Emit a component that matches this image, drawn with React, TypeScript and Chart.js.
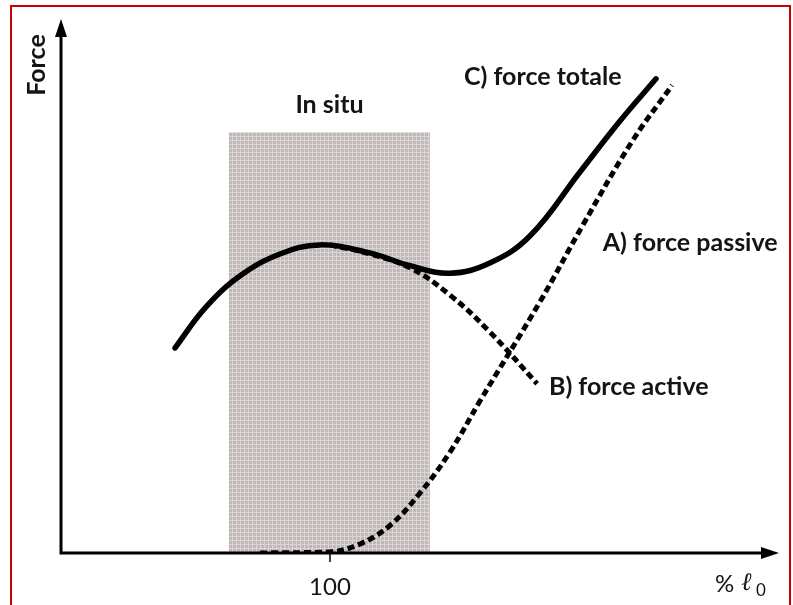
import React, { useEffect, useRef } from "react";
import { Chart, registerables } from "chart.js";

Chart.register(...registerables);

// ---- data (x: % of l0, y: force, arbitrary units) ----
const totalX = [71.2, 76.8, 83.3, 90.7, 98.1, 107.4, 114.9, 122.3, 129.7, 137.2, 146.5, 153.9, 160.6];
const totalY = [38.4, 45.9, 51.9, 56.0, 57.7, 56.2, 53.8, 52.4, 54.3, 59.4, 71.4, 80.9, 88.8];

const activeX = [100.0, 107.4, 114.9, 122.3, 129.7, 138.5];
const activeY = [57.7, 56.0, 53.4, 48.3, 41.4, 31.7];

const passiveX = [87.0, 100.0, 105.6, 111.2, 116.7, 122.3, 127.9, 139.0, 147.0, 156.3, 163.6];
const passiveY = [0, 0.2, 1.7, 5.2, 11.2, 18.9, 28.5, 47.0, 61.4, 77.3, 87.6];

const inSituRange = [81.2, 118.6];
const inSituTop = 78.8;

const xTickValues = [100];
const xTickLabels = ["100"];

const seriesLabels = ["C) force totale", "B) force active", "A) force passive"];
const regionLabel = "In situ";
const yAxisTitle = "Force";

const X_MIN = 50;
const X_MAX = 183.46;
const Y_MIN = 0;
const Y_MAX = 100;

// label anchor positions in data coordinates (layout only)
const labelAnchors = [
  { x: 124.9, y: 89.1 }, // C
  { x: 140.7, y: 31.1 }, // B
  { x: 150.7, y: 58.1 }, // A
];

const toPts = (xs: number[], ys: number[]) => xs.map((x, i) => ({ x, y: ys[i] }));

function makePattern(ctx: CanvasRenderingContext2D) {
  const c = document.createElement("canvas");
  c.width = 4;
  c.height = 4;
  const g = c.getContext("2d")!;
  g.fillStyle = "#c0b7b7";
  g.fillRect(0, 0, 4, 4);
  g.fillStyle = "#dcd5d5";
  g.fillRect(0, 0, 4, 1);
  g.fillRect(0, 0, 1, 4);
  return ctx.createPattern(c, "repeat");
}

const LABEL_FONT = "bold 25px Lato, 'Liberation Sans', sans-serif";

const decorPlugin = {
  id: "decor",
  beforeDatasetsDraw(chart: any) {
    const { ctx, scales } = chart;
    const xs = scales.x;
    const ys = scales.y;
    const x0 = xs.getPixelForValue(inSituRange[0]);
    const x1 = xs.getPixelForValue(inSituRange[1]);
    const yTop = ys.getPixelForValue(inSituTop);
    const yBot = ys.getPixelForValue(0);
    ctx.save();
    ctx.fillStyle = makePattern(ctx) || "#ccc5c5";
    ctx.fillRect(x0, yTop, x1 - x0, yBot - yTop);
    ctx.restore();

    const ox = xs.getPixelForValue(X_MIN);
    const oy = ys.getPixelForValue(0);
    const tipX = xs.getPixelForValue(X_MAX);
    const tipY = ys.getPixelForValue(Y_MAX);
    ctx.save();
    ctx.strokeStyle = "#000";
    ctx.fillStyle = "#000";
    ctx.lineWidth = 3;
    ctx.beginPath();
    ctx.moveTo(ox, oy + 1.5);
    ctx.lineTo(ox, tipY + 10);
    ctx.moveTo(ox - 1.5, oy);
    ctx.lineTo(tipX - 10, oy);
    ctx.stroke();
    ctx.beginPath();
    ctx.moveTo(ox, tipY);
    ctx.lineTo(ox - 6, tipY + 18);
    ctx.lineTo(ox + 6, tipY + 18);
    ctx.closePath();
    ctx.fill();
    ctx.beginPath();
    ctx.moveTo(tipX, oy);
    ctx.lineTo(tipX - 18, oy - 6);
    ctx.lineTo(tipX - 18, oy + 6);
    ctx.closePath();
    ctx.fill();
    ctx.lineWidth = 1.5;
    xTickValues.forEach((v) => {
      const px = xs.getPixelForValue(v);
      ctx.beginPath();
      ctx.moveTo(px, oy);
      ctx.lineTo(px, oy + 9);
      ctx.stroke();
    });
    ctx.restore();
  },
  afterDraw(chart: any) {
    const { ctx, scales } = chart;
    const xs = scales.x;
    const ys = scales.y;
    const oy = ys.getPixelForValue(0);
    ctx.save();
    ctx.fillStyle = "#141414";
    ctx.textBaseline = "middle";

    ctx.font = "24px Lato, 'Liberation Sans', sans-serif";
    ctx.textAlign = "center";
    xTickValues.forEach((v, i) => {
      ctx.fillText(xTickLabels[i], xs.getPixelForValue(v), oy + 34);
    });

    const tx = xs.getPixelForValue(X_MAX);
    ctx.textAlign = "left";
    ctx.font = "24px Lato, 'Liberation Sans', sans-serif";
    ctx.fillText("%", tx - 64, oy + 31);
    ctx.font = "italic 25px 'DejaVu Serif', serif";
    ctx.fillText("\u2113", tx - 38, oy + 30);
    ctx.font = "17px Lato, 'Liberation Sans', sans-serif";
    ctx.fillText("0", tx - 23, oy + 38);

    const ox = xs.getPixelForValue(X_MIN);
    ctx.save();
    ctx.translate(ox - 24, ys.getPixelForValue(Y_MAX) + 46);
    ctx.rotate(-Math.PI / 2);
    ctx.textAlign = "center";
    ctx.font = LABEL_FONT;
    ctx.fillText(yAxisTitle, 0, 0);
    ctx.restore();

    ctx.textAlign = "center";
    ctx.font = LABEL_FONT;
    const cx = (xs.getPixelForValue(inSituRange[0]) + xs.getPixelForValue(inSituRange[1])) / 2;
    ctx.fillText(regionLabel, cx, ys.getPixelForValue(inSituTop) - 27);

    ctx.textAlign = "left";
    seriesLabels.forEach((t, i) => {
      const a = labelAnchors[i];
      ctx.fillText(t, xs.getPixelForValue(a.x), ys.getPixelForValue(a.y));
    });
    ctx.restore();
  },
};

export default function App() {
  const ref = useRef<HTMLCanvasElement | null>(null);
  useEffect(() => {
    if (!ref.current) return;
    const common = {
      showLine: true,
      borderColor: "#000",
      pointRadius: 0,
      tension: 0.4,
      fill: false,
    };
    const chart = new Chart(ref.current, {
      type: "scatter",
      data: {
        datasets: [
          { ...common, label: seriesLabels[2], data: toPts(passiveX, passiveY), borderWidth: 5, borderDash: [7, 4], borderCapStyle: "butt" },
          { ...common, label: seriesLabels[1], data: toPts(activeX, activeY), borderWidth: 5, borderDash: [7, 4], borderCapStyle: "butt" },
          { ...common, label: seriesLabels[0], data: toPts(totalX, totalY), borderWidth: 5.5, borderCapStyle: "round" },
        ],
      },
      options: {
        animation: false,
        responsive: false,
        devicePixelRatio: 1,
        layout: { padding: { left: 61, right: 14, top: 19, bottom: 52 } },
        plugins: { legend: { display: false }, tooltip: { enabled: false } },
        scales: {
          x: { type: "linear", min: X_MIN, max: X_MAX, display: false },
          y: { type: "linear", min: Y_MIN, max: Y_MAX, display: false },
        },
      },
      plugins: [decorPlugin],
    } as any);
    return () => chart.destroy();
  }, []);

  return (
    <div style={{ position: "fixed", left: 0, top: 0, width: 793, height: 605, background: "#fff", overflow: "hidden" }}>
      <canvas ref={ref} width={793} height={605} style={{ position: "absolute", left: 0, top: 0, width: 793, height: 605 }} />
      <div
        style={{
          position: "absolute",
          left: 10,
          top: 5,
          width: 781,
          height: 640,
          boxSizing: "border-box",
          border: "2px solid #c80000",
          pointerEvents: "none",
        }}
      />
    </div>
  );
}
